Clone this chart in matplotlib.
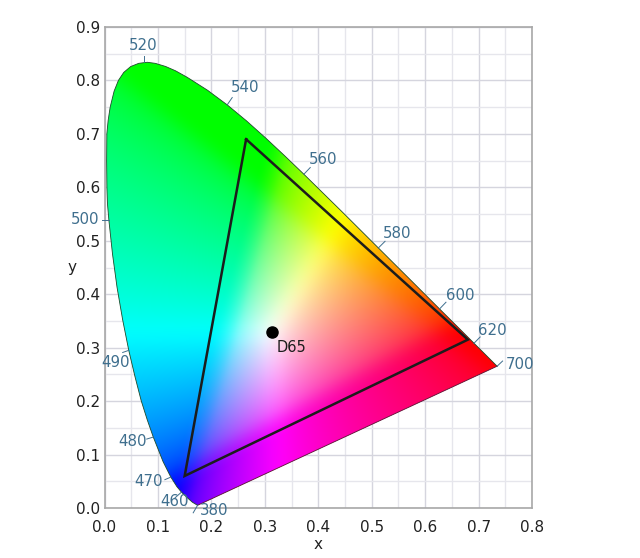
import matplotlib
matplotlib.use('Agg')
import matplotlib.pyplot as plt
import numpy as np
from matplotlib.patches import Polygon

# spectral locus, read along the curve from violet round to red
locus_x = [0.1741, 0.1644, 0.1566, 0.1440, 0.1355, 0.1241, 0.1096, 0.0913, 0.0800, 0.0687,
           0.0570, 0.0454, 0.0340, 0.0235, 0.0150, 0.0082, 0.0055, 0.0045, 0.0040, 0.0044,
           0.0068, 0.0106, 0.0180, 0.0260, 0.0360, 0.0490, 0.0640, 0.0800, 0.0950, 0.1142,
           0.1330, 0.1547, 0.1929, 0.2296, 0.2658, 0.3016, 0.3373, 0.3731, 0.4441, 0.5125,
           0.5752, 0.6270, 0.6658, 0.6915, 0.7079, 0.7190, 0.7347]
locus_y = [0.0050, 0.0109, 0.0177, 0.0297, 0.0399, 0.0578, 0.0868, 0.1327, 0.1650, 0.2007,
           0.2460, 0.2950, 0.3520, 0.4127, 0.4750, 0.5384, 0.5700, 0.6000, 0.6500, 0.7000,
           0.7250, 0.7500, 0.7800, 0.8000, 0.8150, 0.8260, 0.8320, 0.8340, 0.8320, 0.8262,
           0.8180, 0.8059, 0.7816, 0.7543, 0.7243, 0.6923, 0.6589, 0.6245, 0.5547, 0.4866,
           0.4242, 0.3725, 0.3340, 0.3083, 0.2920, 0.2809, 0.2653]

# gamut triangle and white point
gamut_x = [0.265, 0.68, 0.15]
gamut_y = [0.69, 0.315, 0.06]
white_x = 0.3127
white_y = 0.329

# wavelength labels
wl_names = ['520', '540', '560', '580', '600', '620', '700', '500', '490', '480', '470', '460', '380']
wl_label_x = [0.072, 0.263, 0.409, 0.547, 0.665, 0.725, 0.777, -0.036, 0.021, 0.053, 0.083, 0.132, 0.205]
wl_label_y = [0.866, 0.786, 0.653, 0.513, 0.397, 0.333, 0.268, 0.539, 0.273, 0.125, 0.049, 0.013, -0.004]
# short leader lines from the curve
wl_start_x = [0.0743, 0.2296, 0.3731, 0.5125, 0.6270, 0.6915, 0.7347, 0.0082, 0.0454, 0.0913, 0.1241, 0.1440, 0.1741]
wl_start_y = [0.8338, 0.7543, 0.6245, 0.4866, 0.3725, 0.3083, 0.2653, 0.5384, 0.2950, 0.1327, 0.0578, 0.0297, 0.0050]
wl_end_x = [0.0743, 0.2390, 0.3850, 0.5250, 0.6390, 0.7030, 0.7450, -0.0040, 0.0340, 0.0790, 0.1130, 0.1320, 0.1660]
wl_end_y = [0.8450, 0.7680, 0.6370, 0.4990, 0.3850, 0.3200, 0.2750, 0.5384, 0.2910, 0.1290, 0.0530, 0.0190, -0.0090]

LABEL_BLUE = '#3f6f8e'
INK = '#1c1c1c'


def xy_to_rgb(x, y):
    """Chromaticity to display sRGB, brightest colour for each x, y."""
    y = np.maximum(y, 1e-4)
    X = x / y
    Z = (1 - x - y) / y
    r = 3.2406 * X - 1.5372 - 0.4986 * Z
    g = -0.9689 * X + 1.8758 + 0.0415 * Z
    b = 0.0557 * X - 0.2040 + 1.0570 * Z
    rgb = np.clip(np.dstack([r, g, b]), 0, None)
    rgb = rgb / np.maximum(rgb.max(axis=2, keepdims=True), 1e-6)
    return np.where(rgb <= 0.0031308, 12.92 * rgb,
                    1.055 * rgb ** (1 / 2.4) - 0.055)


def soften(img, size=35):
    """Box blur, the reference field has no hard creases."""
    kernel = np.ones(size) / size
    pad = size // 2
    out = np.pad(img, ((pad, pad), (pad, pad), (0, 0)), mode='edge')
    out = np.apply_along_axis(lambda v: np.convolve(v, kernel, mode='same'), 0, out)
    out = np.apply_along_axis(lambda v: np.convolve(v, kernel, mode='same'), 1, out)
    return out[pad:-pad, pad:-pad]


fig = plt.figure(figsize=(6.4, 5.58), dpi=100)
ax = fig.add_axes([104.5 / 640, 50 / 558, 427.5 / 640, 481 / 558])
ax.set_xlim(0, 0.8)
ax.set_ylim(0, 0.9)

# grid under the colour field
ax.set_axisbelow(True)
ax.set_xticks(np.arange(0, 0.81, 0.1))
ax.set_yticks(np.arange(0, 0.91, 0.1))
ax.set_xticks(np.arange(0.05, 0.8, 0.1), minor=True)
ax.set_yticks(np.arange(0.05, 0.9, 0.1), minor=True)
ax.grid(True, which='major', color='#d5d5de', linewidth=1.0)
ax.grid(True, which='minor', color='#e6e6ec', linewidth=1.0)
ax.tick_params(which='both', length=0)
ax.tick_params(axis='x', which='major', labelsize=11, pad=9, labelcolor='#222222')
ax.tick_params(axis='y', which='major', labelsize=11, pad=3, labelcolor='#222222')
for spine in ax.spines.values():
    spine.set_color('#a8a8a8')
    spine.set_linewidth(1.2)

# colour field clipped to the locus
gx, gy = np.meshgrid(np.linspace(0, 0.8, 640), np.linspace(0, 0.9, 720))
im = ax.imshow(soften(xy_to_rgb(gx, gy)), origin='lower', extent=[0, 0.8, 0, 0.9],
               aspect='auto', interpolation='bilinear', zorder=2)
outline = Polygon(np.column_stack([locus_x, locus_y]), closed=True, transform=ax.transData,
                  facecolor='none', edgecolor='none')
ax.add_patch(outline)
im.set_clip_path(outline)
ax.plot(locus_x, locus_y, color='#1d4a2a', linewidth=0.6, zorder=3)
ax.plot([locus_x[-1], locus_x[0]], [locus_y[-1], locus_y[0]], color='#5a1030',
        linewidth=0.6, zorder=3)

# gamut triangle
ax.plot(gamut_x + gamut_x[:1], gamut_y + gamut_y[:1], color=INK, linewidth=1.8,
        solid_joinstyle='miter', zorder=4)

# white point
ax.plot(white_x, white_y, 'o', color='black', markersize=8, zorder=5)
ax.text(0.322, 0.3, 'D65', fontsize=10.5, color=INK, ha='left', va='center', zorder=5)

# wavelengths
for name, lx, ly, x0, y0, x1, y1 in zip(wl_names, wl_label_x, wl_label_y,
                                         wl_start_x, wl_start_y, wl_end_x, wl_end_y):
    ax.plot([x0, x1], [y0, y1], color=LABEL_BLUE, linewidth=0.7, clip_on=False, zorder=3)
    ax.text(lx, ly, name, fontsize=10.8, color=LABEL_BLUE, ha='center', va='center', zorder=6)

ax.set_xlabel('x', fontsize=11, color='#222222', labelpad=1)
ax.set_ylabel('y', fontsize=11, color='#222222', rotation=0, va='center')
ax.yaxis.set_label_coords(-0.075, 0.501)

fig.savefig('out.png', dpi=100)
